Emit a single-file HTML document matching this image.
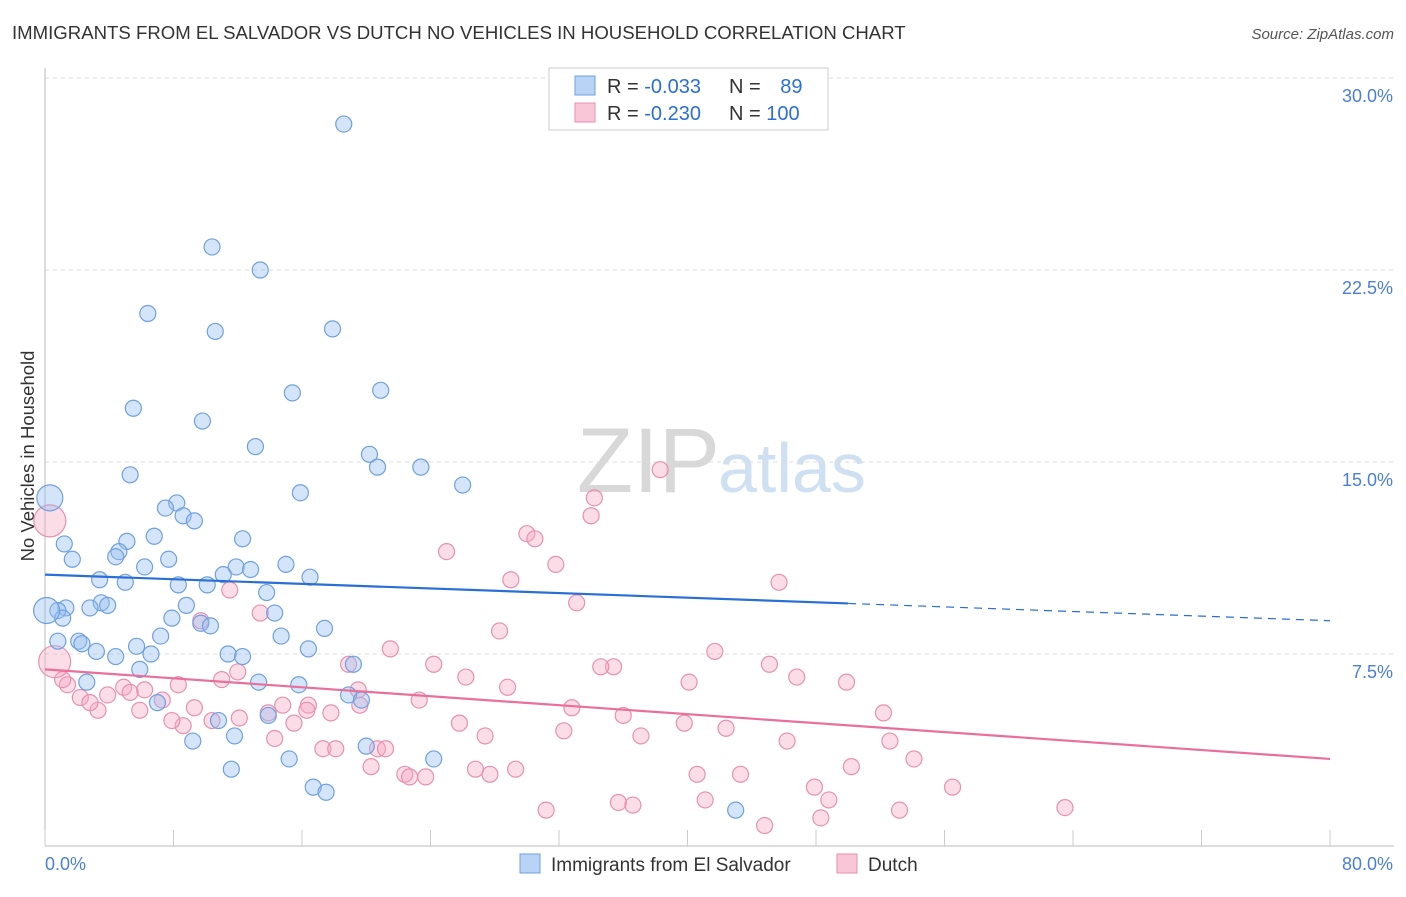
<!DOCTYPE html>
<html><head><meta charset="utf-8"><style>
body{margin:0;background:#fff;font-family:"Liberation Sans",sans-serif;}
svg text{font-family:"Liberation Sans",sans-serif;}
</style></head><body>
<svg id="chart" width="1406" height="892" viewBox="0 0 1406 892">
<text x="12" y="39" font-size="18.6" fill="#333">IMMIGRANTS FROM EL SALVADOR VS DUTCH NO VEHICLES IN HOUSEHOLD CORRELATION CHART</text>
<text x="1394" y="39" font-size="15" fill="#555" font-style="italic" text-anchor="end">Source: ZipAtlas.com</text>
<text x="34" y="456" font-size="18.5" fill="#333" text-anchor="middle" transform="rotate(-90 34 456)">No Vehicles in Household</text>
<text x="720" y="492" font-size="92" fill="#d8d8d8" text-anchor="end" font-family="Liberation Serif">ZIP</text>
<text x="718" y="492" font-size="70" fill="#cfe0f3">atlas</text>
<g id="grid"></g><g id="axes"></g><g id="pts"></g><g id="lines"></g>
<g>
<rect x="549" y="68" width="279" height="62" fill="#fff" stroke="#ccc"/>
<rect x="575" y="76" width="20" height="19" fill="#b8d3f5" stroke="#6fa0e0"/>
<rect x="575" y="103" width="20" height="19" fill="#f8c6d6" stroke="#e890b0"/>
<text x="607" y="93" font-size="20" fill="#333">R = <tspan fill="#2a6fd6">-0.033</tspan></text>
<text x="729" y="93" font-size="20" fill="#333">N = <tspan fill="#2a6fd6" dx="14">89</tspan></text>
<text x="607" y="120" font-size="20" fill="#333">R = <tspan fill="#2a6fd6">-0.230</tspan></text>
<text x="729" y="120" font-size="20" fill="#333">N = <tspan fill="#2a6fd6">100</tspan></text>
</g>
<g>
<rect x="520" y="854" width="20" height="19" fill="#b8d3f5" stroke="#6fa0e0"/>
<text x="551" y="871" font-size="19" fill="#333">Immigrants from El Salvador</text>
<rect x="837" y="854" width="20" height="19" fill="#f8c6d6" stroke="#e890b0"/>
<text x="868" y="871" font-size="19" fill="#333">Dutch</text>
</g>
</svg>
<script>
const yTicks=[30,22.5,15,7.5];
const yTickLabels=["30.0%","22.5%","15.0%","7.5%"];
const xTicks=[0,8,16,24,32,40,48,56,64,72,80];
const blueX=[18.6,10.4,13.4,6.4,10.6,17.9,15.4,20.9,5.5,9.8,13.1,20.2,20.7,23.4,5.3,26.0,15.9,8.2,7.5,8.6,9.3,6.8,12.3,1.2,5.1,4.6,4.4,1.7,7.7,6.2,11.9,11.1,12.8,15.0,16.5,3.4,5.0,8.3,10.1,13.8,14.3,8.8,3.5,3.9,2.8,1.3,0.8,1.1,7.9,9.7,10.3,17.4,0.8,2.1,2.3,7.2,14.7,5.7,6.6,3.2,4.4,11.4,12.3,16.4,19.2,5.9,2.6,13.3,15.8,18.9,19.7,7.0,10.8,13.9,11.8,9.2,20.0,24.2,15.2,11.6,16.7,17.5,43.0];
const blueY=[28.2,23.4,22.5,20.8,20.1,20.2,17.7,17.8,17.1,16.6,15.6,15.3,14.8,14.8,14.5,14.1,13.8,13.4,13.2,12.9,12.7,12.1,12.0,11.8,11.9,11.5,11.3,11.2,11.2,10.9,10.9,10.6,10.8,11.0,10.5,10.4,10.3,10.2,10.2,9.9,9.1,9.4,9.5,9.4,9.3,9.3,9.2,8.9,8.9,8.7,8.6,8.5,8.0,8.0,7.9,8.2,8.2,7.8,7.5,7.6,7.4,7.5,7.4,7.7,7.1,6.9,6.4,6.4,6.3,5.9,5.7,5.6,4.9,5.1,4.3,4.1,3.9,3.4,3.4,3.0,2.3,2.1,1.4];
const blueBigX=[0.3,0.1];
const blueBigY=[13.6,9.2];
const pinkX=[38.3,34.2,34.0,30.0,30.5,25.0,31.8,29.0,45.7,11.5,33.1,13.4,9.7,28.3,21.5,35.4,34.6,24.2,18.9,41.7,45.1,12.0,46.8,49.9,26.2,40.1,11.0,28.8,8.3,4.9,3.9,5.3,6.2,7.3,1.4,2.2,3.3,5.9,2.8,19.5,14.8,16.4,16.3,19.6,17.8,32.8,36.0,39.8,52.2,23.3,25.8,42.4,8.6,10.4,9.3,7.9,13.9,12.1,15.5,14.3,27.4,32.3,37.1,46.2,52.6,17.3,18.1,20.7,21.2,54.1,20.3,26.8,27.7,29.3,22.4,22.7,23.7,40.6,43.3,50.2,56.5,47.9,41.1,48.8,35.7,36.6,31.2,63.5,53.2,48.3,44.8,1.1];
const pinkY=[14.7,13.6,12.9,12.2,12.0,11.5,11.0,10.4,10.3,10.0,9.5,9.1,8.8,8.4,7.7,7.0,7.0,7.1,7.1,7.6,7.1,6.8,6.6,6.4,6.6,6.4,6.5,6.2,6.3,6.2,5.9,6.0,6.1,5.7,6.3,5.8,5.3,5.3,5.6,6.1,5.5,5.5,5.3,5.5,5.2,5.4,5.1,4.8,5.2,5.7,4.8,4.6,4.7,4.9,5.4,4.9,5.2,5.0,4.8,4.2,4.3,4.5,4.3,4.1,4.1,3.8,3.8,3.8,3.8,3.4,3.1,3.0,2.8,3.0,2.8,2.7,2.7,2.8,2.8,3.1,2.3,2.3,1.8,1.8,1.7,1.6,1.4,1.5,1.4,1.1,0.8,6.5];
const pinkBigX=[0.3,0.6];
const pinkBigY=[12.7,7.2];
const blueTrend=[10.6,8.8];
const pinkTrend=[6.9,3.4];
const X0=45,X1=1330,Y0=846,YTOP=78;
const sx=v=>X0+(X1-X0)*v/80;
const sy=v=>Y0-(Y0-YTOP)*v/30;
const NS="http://www.w3.org/2000/svg";
function mk(t,a,p){const e=document.createElementNS(NS,t);for(const k in a)e.setAttribute(k,a[k]);p.appendChild(e);return e;}
const grid=document.getElementById('grid'),axes=document.getElementById('axes'),pts=document.getElementById('pts'),lines=document.getElementById('lines');
yTicks.forEach((t,i)=>{
 const l=mk('line',{x1:X0,x2:1394,y1:sy(t),y2:sy(t),stroke:'#ddd','stroke-dasharray':'4,4'},grid);
 
 
 const tx=mk('text',{x:1393,y:sy(t)+24,'font-size':18,fill:'#4a7fd6','text-anchor':'end'},grid);
 tx.textContent=yTickLabels[i];
 
 
});
const ya=mk('line',{x1:X0,x2:X0,y1:68,y2:Y0,stroke:'#bbb'},axes);


const xa=mk('line',{x1:X0,x2:1394,y1:Y0,y2:Y0,stroke:'#bbb'},axes);


xTicks.forEach(v=>{
 const tk=mk('line',{x1:sx(v),x2:sx(v),y1:Y0,y2:Y0-16,stroke:'#ccc'},axes);
 
 
});
const xl0=mk('text',{x:45,y:870,'font-size':18,fill:'#4a7fd6'},axes);xl0.textContent='0.0%';


const xl1=mk('text',{x:1393,y:870,'font-size':18,fill:'#4a7fd6','text-anchor':'end'},axes);xl1.textContent='80.0%';


function dots(xs,ys,r,fill,stroke,name){xs.forEach((x,i)=>{
 const c=mk('circle',{cx:sx(x),cy:sy(ys[i]),r:r,fill:fill,stroke:stroke,'stroke-width':1.2},pts);
 
 
});}
dots(pinkX,pinkY,8,'rgba(245,170,195,0.4)','#e890b0','point-dutch');
dots(pinkBigX,pinkBigY,16,'rgba(245,170,195,0.4)','#e890b0','point-dutch-large');
dots(blueX,blueY,8,'rgba(150,190,240,0.4)','#6fa0e0','point-salvador');
dots(blueBigX,blueBigY,13,'rgba(150,190,240,0.4)','#6fa0e0','point-salvador-large');
const bAt=x=>blueTrend[0]+(blueTrend[1]-blueTrend[0])*x/80;
const b1=mk('line',{x1:sx(0),y1:sy(bAt(0)),x2:sx(50),y2:sy(bAt(50)),stroke:'#2a6fd6','stroke-width':2.2},lines);


const b2=mk('line',{x1:sx(50),y1:sy(bAt(50)),x2:sx(80),y2:sy(bAt(80)),stroke:'#2a6fd6','stroke-width':1.2,'stroke-dasharray':'8,6'},lines);


const p1=mk('line',{x1:sx(0),y1:sy(pinkTrend[0]),x2:sx(80),y2:sy(pinkTrend[1]),stroke:'#e8709a','stroke-width':2.2},lines);


</script>
</body></html>
